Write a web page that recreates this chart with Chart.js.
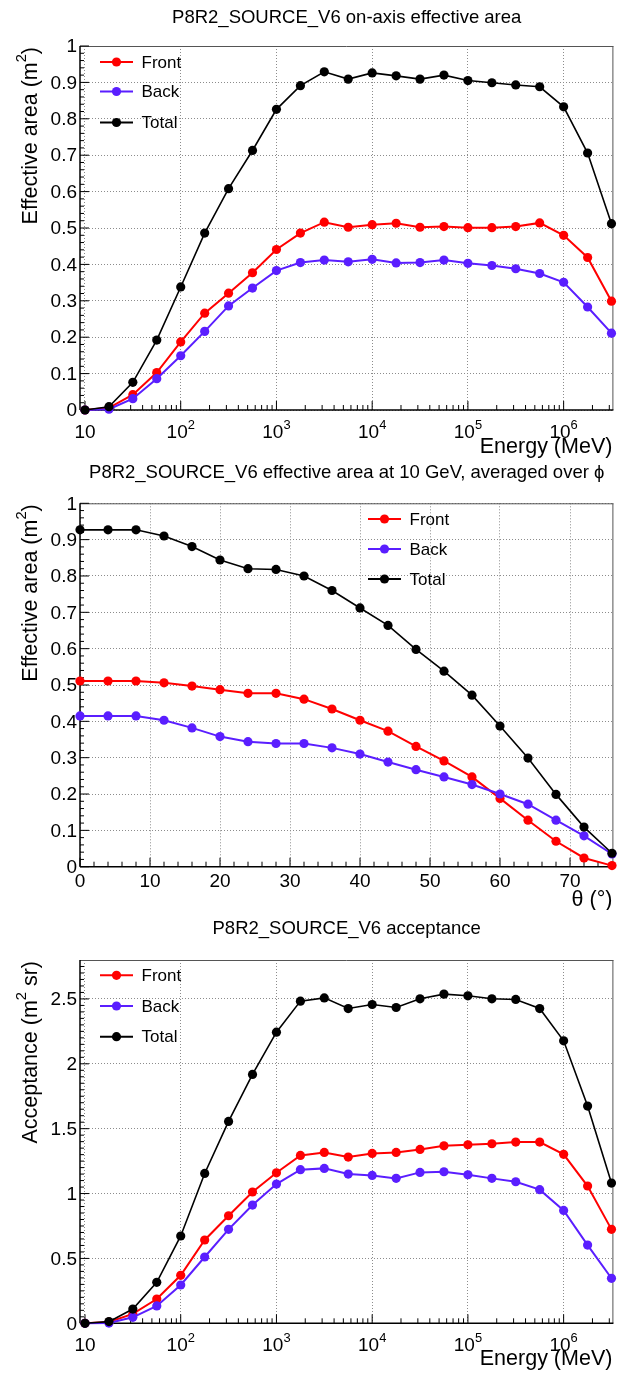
<!DOCTYPE html>
<html>
<head>
<meta charset="utf-8">
<script src="https://cdn.jsdelivr.net/npm/chart.js@4.4.1/dist/chart.umd.min.js"></script>
<style>
  html, body { margin: 0; padding: 0; background: #fff; }
  canvas { display: block; }
</style>
</head>
<body>
<canvas id="areaEnergy" width="618" height="458"></canvas>
<canvas id="areaTheta" width="618" height="452"></canvas>
<canvas id="acceptance" width="618" height="463"></canvas>
<script>
// energy bins (MeV)
const energies = [10, 17.8, 31.6, 56.2, 100, 178, 316, 562, 1000, 1780, 3160, 5620,
  10000, 17800, 31600, 56200, 100000, 178000, 316000, 562000, 1000000, 1780000, 3160000];

// on-axis effective area (m^2)
const areaFront = [0.000, 0.006, 0.042, 0.103, 0.187, 0.266, 0.321, 0.377, 0.441, 0.486, 0.516, 0.502,
  0.509, 0.513, 0.502, 0.504, 0.501, 0.501, 0.504, 0.514, 0.480, 0.419, 0.299];
const areaBack = [0.000, 0.002, 0.031, 0.086, 0.149, 0.216, 0.286, 0.335, 0.383, 0.405, 0.412, 0.407,
  0.414, 0.404, 0.405, 0.412, 0.403, 0.397, 0.388, 0.375, 0.351, 0.283, 0.211];
const areaTotal = [0.000, 0.009, 0.076, 0.192, 0.338, 0.486, 0.608, 0.713, 0.826, 0.891, 0.929, 0.909,
  0.926, 0.918, 0.909, 0.920, 0.905, 0.899, 0.893, 0.888, 0.833, 0.706, 0.512];

// effective area at 10 GeV vs incidence angle
const thetas = [0, 4, 8, 12, 16, 20, 24, 28, 32, 36, 40, 44, 48, 52, 56, 60, 64, 68, 72, 76];
const thetaFront = [0.511, 0.511, 0.511, 0.506, 0.497, 0.487, 0.477, 0.477, 0.461, 0.434, 0.403, 0.373,
  0.331, 0.291, 0.247, 0.188, 0.128, 0.070, 0.024, 0.003];
const thetaBack = [0.415, 0.415, 0.415, 0.403, 0.382, 0.358, 0.344, 0.339, 0.339, 0.327, 0.310, 0.288,
  0.267, 0.247, 0.226, 0.200, 0.172, 0.128, 0.085, 0.035];
const thetaTotal = [0.927, 0.927, 0.927, 0.910, 0.881, 0.844, 0.820, 0.818, 0.800, 0.760, 0.712, 0.664,
  0.598, 0.538, 0.472, 0.387, 0.299, 0.199, 0.109, 0.037];

// acceptance (m^2 sr)
const accFront = [0.000, 0.010, 0.072, 0.187, 0.370, 0.642, 0.829, 1.012, 1.160, 1.294, 1.317, 1.281,
  1.309, 1.317, 1.340, 1.368, 1.376, 1.384, 1.397, 1.397, 1.302, 1.058, 0.724];
const accBack = [0.000, 0.002, 0.046, 0.134, 0.295, 0.511, 0.724, 0.911, 1.073, 1.184, 1.194, 1.150,
  1.140, 1.117, 1.163, 1.168, 1.145, 1.117, 1.091, 1.030, 0.870, 0.603, 0.347];
const accTotal = [0.000, 0.013, 0.110, 0.316, 0.673, 1.155, 1.556, 1.918, 2.244, 2.483, 2.508, 2.426,
  2.457, 2.434, 2.501, 2.537, 2.524, 2.501, 2.496, 2.426, 2.177, 1.674, 1.081];

// axis ticks
const energyMajor = [10, 100, 1000, 10000, 100000, 1000000];
const energyExp = ['', '2', '3', '4', '5', '6'];
const energyMinor = [20, 30, 40, 50, 60, 70, 80, 90, 200, 300, 400, 500, 600, 700, 800, 900,
  2000, 3000, 4000, 5000, 6000, 7000, 8000, 9000, 20000, 30000, 40000, 50000, 60000, 70000, 80000, 90000,
  200000, 300000, 400000, 500000, 600000, 700000, 800000, 900000, 2000000, 3000000];
const thetaMajor = [0, 10, 20, 30, 40, 50, 60, 70];
const thetaMinor = [2, 4, 6, 8, 12, 14, 16, 18, 22, 24, 26, 28, 32, 34, 36, 38, 42, 44, 46, 48,
  52, 54, 56, 58, 62, 64, 66, 68, 72, 74, 76];
const areaMajor = [0, 0.1, 0.2, 0.3, 0.4, 0.5, 0.6, 0.7, 0.8, 0.9, 1];
const areaLabels = ['0', '0.1', '0.2', '0.3', '0.4', '0.5', '0.6', '0.7', '0.8', '0.9', '1'];
const areaMinor = [];
for (let i = 1; i < 50; i++) if (i % 5) areaMinor.push(i * 0.02);
const accMajor = [0, 0.5, 1, 1.5, 2, 2.5];
const accLabels = ['0', '0.5', '1', '1.5', '2', '2.5'];
const accMinor = [];
for (let i = 1; i < 56; i++) if (i % 10) accMinor.push(i * 0.05);

const seriesNames = ['Front', 'Back', 'Total'];
const seriesColors = ['#ff0000', '#5a1eff', '#000000'];

const FONT = "'Liberation Sans', Arial, Helvetica, sans-serif";

function line(ctx, x1, y1, x2, y2) {
  ctx.beginPath();
  ctx.moveTo(x1, y1);
  ctx.lineTo(x2, y2);
  ctx.stroke();
}

// text made of pieces, some of them superscripts
function pieceWidth(ctx, parts, size) {
  let w = 0;
  for (const p of parts) {
    ctx.font = (p.sup ? size * 0.68 : size) + 'px ' + FONT;
    w += ctx.measureText(p.t).width;
  }
  return w;
}
function drawPieces(ctx, parts, x, y, size) {
  let cx = x;
  for (const p of parts) {
    ctx.font = (p.sup ? size * 0.68 : size) + 'px ' + FONT;
    ctx.fillText(p.t, cx, p.sup ? y - size * 0.5 : y);
    cx += ctx.measureText(p.t).width;
  }
}

function rootFrame(o) {
  return {
    id: 'rootFrame',
    beforeDatasetsDraw(chart) {
      const { ctx, chartArea: a, scales: { x, y } } = chart;
      ctx.save();
      ctx.strokeStyle = '#555';
      ctx.lineWidth = 1;
      line(ctx, a.left, a.top + 0.5, a.right, a.top + 0.5);
      line(ctx, a.right - 0.5, a.top, a.right - 0.5, a.bottom);
      ctx.strokeStyle = '#000';
      ctx.lineWidth = 1.5;
      line(ctx, a.left, a.top, a.left, a.bottom);
      line(ctx, a.left, a.bottom, a.right, a.bottom);
      ctx.lineWidth = 1;
      for (const v of o.xMajor) { const p = x.getPixelForValue(v); line(ctx, p, a.bottom, p, a.bottom - 9); }
      for (const v of o.xMinor) { const p = x.getPixelForValue(v); line(ctx, p, a.bottom, p, a.bottom - 5); }
      for (const v of o.yMajor) { const p = y.getPixelForValue(v); line(ctx, a.left, p, a.left + 9, p); }
      for (const v of o.yMinor) { const p = y.getPixelForValue(v); line(ctx, a.left, p, a.left + 4, p); }
      ctx.restore();
    },
    afterDraw(chart) {
      const { ctx, chartArea: a, scales: { x, y } } = chart;
      ctx.save();
      ctx.fillStyle = '#000';

      // title
      ctx.font = '18.5px ' + FONT;
      ctx.textAlign = 'center';
      ctx.textBaseline = 'alphabetic';
      ctx.fillText(o.title, (a.left + a.right) / 2, o.titleY);

      // y tick labels
      ctx.font = '19px ' + FONT;
      ctx.textAlign = 'right';
      ctx.textBaseline = 'middle';
      o.yMajor.forEach((v, i) => ctx.fillText(o.yLabels[i], a.left - 3, y.getPixelForValue(v) + 1));

      // x tick labels
      ctx.textAlign = 'left';
      ctx.textBaseline = 'alphabetic';
      o.xMajor.forEach((v, i) => {
        const parts = o.xLabel(i);
        const w = pieceWidth(ctx, parts, 19);
        drawPieces(ctx, parts, x.getPixelForValue(v) - w / 2, a.bottom + o.xLabelDy, 19);
      });

      // axis titles
      const tw = pieceWidth(ctx, o.xTitle, 21.5);
      drawPieces(ctx, o.xTitle, a.right - 1 - tw, o.xTitleY, 21.5);
      const yw = pieceWidth(ctx, o.yTitle, 21.5);
      ctx.translate(36.5, a.top + 1);
      ctx.rotate(-Math.PI / 2);
      drawPieces(ctx, o.yTitle, -yw, 0, 21.5);
      ctx.setTransform(1, 0, 0, 1, 0, 0);

      // legend
      ctx.font = '17px ' + FONT;
      ctx.textBaseline = 'middle';
      seriesNames.forEach((name, i) => {
        const ly = o.legendY[i];
        ctx.strokeStyle = seriesColors[i];
        ctx.lineWidth = 2;
        line(ctx, o.legendX, ly, o.legendX + 33, ly);
        ctx.fillStyle = seriesColors[i];
        ctx.beginPath();
        ctx.arc(o.legendX + 16.5, ly, 4.6, 0, Math.PI * 2);
        ctx.fill();
        ctx.fillStyle = '#000';
        ctx.fillText(name, o.legendX + 41.5, ly + 1);
      });
      ctx.restore();
    }
  };
}

function datasets(xs, series) {
  return series.map((vals, i) => ({
    label: seriesNames[i],
    data: xs.map((v, j) => ({ x: v, y: vals[j] })),
    borderColor: seriesColors[i],
    backgroundColor: seriesColors[i],
    borderWidth: i === 2 ? 1.6 : 2,
    pointRadius: 4.6,
    pointBorderWidth: 0,
    pointBackgroundColor: seriesColors[i],
    tension: 0,
    clip: false,
    order: 2 - i
  }));
}

function makeChart(id, o) {
  const gridOpts = { color: '#8c8c8c', lineWidth: 1, drawTicks: false };
  new Chart(document.getElementById(id), {
    type: 'line',
    data: { datasets: datasets(o.xs, o.series) },
    options: {
      responsive: false,
      animation: false,
      events: [],
      layout: { padding: { top: o.top, right: 2, left: 0, bottom: 0 } },
      plugins: { legend: { display: false }, title: { display: false }, tooltip: { enabled: false } },
      scales: {
        x: {
          type: o.xType, min: o.xMin, max: o.xMax,
          grid: gridOpts, border: { display: false, dash: [1, 2] },
          ticks: { display: false },
          afterBuildTicks: s => { s.ticks = o.xMajor.map(v => ({ value: v })); },
          afterFit: s => { s.height = o.xHeight; }
        },
        y: {
          type: 'linear', min: 0, max: o.yMax,
          grid: gridOpts, border: { display: false, dash: [1, 2] },
          ticks: { display: false },
          afterBuildTicks: s => { s.ticks = o.yMajor.map(v => ({ value: v })); },
          afterFit: s => { s.width = 80; }
        }
      }
    },
    plugins: [rootFrame(o)]
  });
}

const energyLabel = i => i === 0 ? [{ t: '10' }] : [{ t: '10' }, { t: energyExp[i], sup: true }];

makeChart('areaEnergy', {
  xs: energies, series: [areaFront, areaBack, areaTotal],
  xType: 'logarithmic', xMin: 8.87, xMax: 3.31e6, yMax: 1,
  top: 46, xHeight: 48,
  xMajor: energyMajor, xMinor: energyMinor, xLabel: energyLabel, xLabelDy: 28,
  yMajor: areaMajor, yMinor: areaMinor, yLabels: areaLabels,
  title: 'P8R2_SOURCE_V6 on-axis effective area', titleY: 22.7,
  xTitle: [{ t: 'Energy (MeV)' }], xTitleY: 453,
  yTitle: [{ t: 'Effective area (m' }, { t: '2', sup: true }, { t: ')' }],
  legendX: 100, legendY: [62, 91.5, 122.5]
});

makeChart('areaTheta', {
  xs: thetas, series: [thetaFront, thetaBack, thetaTotal],
  xType: 'linear', xMin: 0, xMax: 76.2, yMax: 1,
  top: 45.3, xHeight: 43.3,
  xMajor: thetaMajor, xMinor: thetaMinor, xLabel: i => [{ t: String(thetaMajor[i]) }], xLabelDy: 20,
  yMajor: areaMajor, yMinor: areaMinor, yLabels: areaLabels,
  title: 'P8R2_SOURCE_V6 effective area at 10 GeV, averaged over \u03D5', titleY: 20,
  xTitle: [{ t: '\u03B8 (\u00B0)' }], xTitleY: 448,
  yTitle: [{ t: 'Effective area (m' }, { t: '2', sup: true }, { t: ')' }],
  legendX: 368, legendY: [61, 91, 121]
});

makeChart('acceptance', {
  xs: energies, series: [accFront, accBack, accTotal],
  xType: 'logarithmic', xMin: 8.87, xMax: 3.31e6, yMax: 2.8,
  top: 50, xHeight: 49.7,
  xMajor: energyMajor, xMinor: energyMinor, xLabel: energyLabel, xLabelDy: 27.7,
  yMajor: accMajor, yMinor: accMinor, yLabels: accLabels,
  title: 'P8R2_SOURCE_V6 acceptance', titleY: 24.3,
  xTitle: [{ t: 'Energy (MeV)' }], xTitleY: 455,
  yTitle: [{ t: 'Acceptance (m' }, { t: '2', sup: true }, { t: ' sr)' }],
  legendX: 100, legendY: [65.3, 96, 126.7]
});
</script>
</body>
</html>
